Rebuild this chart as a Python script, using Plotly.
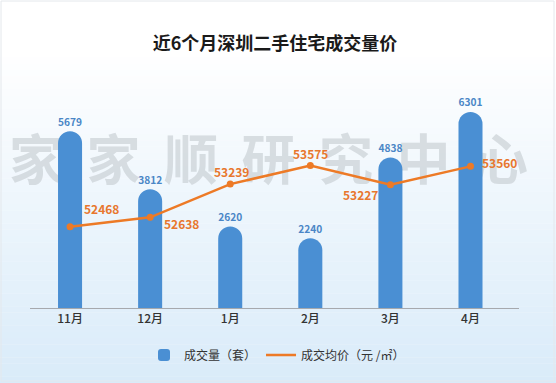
import plotly.graph_objects as go

months = ["11月", "12月", "1月", "2月", "3月", "4月"]
volume = [5679, 3812, 2620, 2240, 4838, 6301]
price = [52468, 52638, 53239, 53575, 53227, 53560]
# label offsets (pixels) for the price labels
price_dx = [31, 31, 1, 0, -30, 29]
price_dy = [18, -6, 13, 12, -10, 4]
watermark = list("家家顺研究中心")

W, H = 556, 383
L, R, T, B = 30, 37, 59, 75
pw, ph = W - L - R, H - T - B
FONT = "Noto Sans CJK SC, Noto Sans, sans-serif"
ORANGE = "#ed7a26"

def px_x(x):
    return (x - L) / pw

def px_y(y):
    return (H - B - y) / ph

shapes = []
n = 60
top_c = (255, 255, 255)
bot_c = (217, 235, 249)
for i in range(n):
    y0 = i * H / n
    y1 = (i + 1) * H / n
    t = max(0.0, (y0 + y1) / 2 - 50) / (H - 50)
    c = tuple(int(round(a + (b - a) * t)) for a, b in zip(top_c, bot_c))
    shapes.append(dict(type="rect", xref="paper", yref="paper", layer="below",
                       x0=px_x(0), x1=px_x(W), y0=px_y(y1), y1=px_y(y0) + 0.001,
                       fillcolor="rgb(%d,%d,%d)" % c, line=dict(width=0)))
shapes.append(dict(type="rect", xref="paper", yref="paper", layer="below",
                   x0=px_x(1), x1=px_x(W - 2), y0=px_y(H - 2), y1=px_y(1),
                   line=dict(color="#e4e8ec", width=1)))
for i, ch in enumerate(watermark):
    cx = 36 + 77.5 * i
    shapes.append(dict(type="rect", xref="paper", yref="paper", layer="below",
                       x0=px_x(cx - 32), x1=px_x(cx + 32), y0=px_y(197), y1=px_y(133),
                       line=dict(width=0), fillcolor="rgba(0,0,0,0)",
                       label=dict(text=ch, textposition="middle center",
                                  font=dict(family=FONT, size=54, weight="bold",
                                            color="rgba(195,201,207,0.6)"))))

fig = go.Figure()
fig.add_trace(go.Bar(
    x=months, y=volume, name="成交量（套）", width=0.3,
    marker=dict(color="#4a8fd3", cornerradius="50%", line=dict(width=0)),
    text=[str(v) for v in volume], textposition="outside", cliponaxis=False,
    textfont=dict(family=FONT, size=12, color="#4a86c6", weight=600),
))
fig.add_trace(go.Scatter(
    x=months, y=price, name="成交均价（元 /㎡）", yaxis="y2",
    mode="lines", line=dict(color=ORANGE, width=2.5),
))
fig.add_trace(go.Scatter(
    x=months, y=price, yaxis="y2", mode="markers", showlegend=False,
    marker=dict(color=ORANGE, size=7), hoverinfo="skip",
))

annotations = []
for m, p, dx, dy in zip(months, price, price_dx, price_dy):
    annotations.append(dict(x=m, y=p, xref="x", yref="y2", text=str(p),
                            showarrow=False, xshift=dx, yshift=dy,
                            font=dict(family=FONT, size=12, color="#e8772e", weight=600)))

fig.update_layout(
    width=W, height=H,
    margin=dict(l=L, r=R, t=T, b=B),
    paper_bgcolor="rgba(0,0,0,0)",
    plot_bgcolor="rgba(0,0,0,0)",
    shapes=shapes,
    annotations=annotations,
    title=dict(text="<b>近6个月深圳二手住宅成交量价</b>", x=275 / W, xanchor="center",
               y=1 - 44 / H, yanchor="middle", yref="container",
               font=dict(family=FONT, size=18, color="#1a1a1a")),
    xaxis=dict(showgrid=False, showline=True, linecolor="#a6a9ad", linewidth=1,
               ticks="", tickfont=dict(family=FONT, size=12, color="#333333", weight=500)),
    yaxis=dict(range=[0, 8000], visible=False, showgrid=False),
    yaxis2=dict(range=[51000, 55500], overlaying="y", side="right", visible=False, showgrid=False),
    showlegend=True,
    legend=dict(orientation="h", x=(277 - L) / pw, xanchor="center",
                yref="container", y=1 - 355 / H, yanchor="middle",
                bgcolor="rgba(0,0,0,0)",
                font=dict(family=FONT, size=12, color="#333333"),
                itemwidth=30),
)

fig.write_html("out.html", config={"displayModeBar": False},
               post_script="document.body.style.margin='0';")
